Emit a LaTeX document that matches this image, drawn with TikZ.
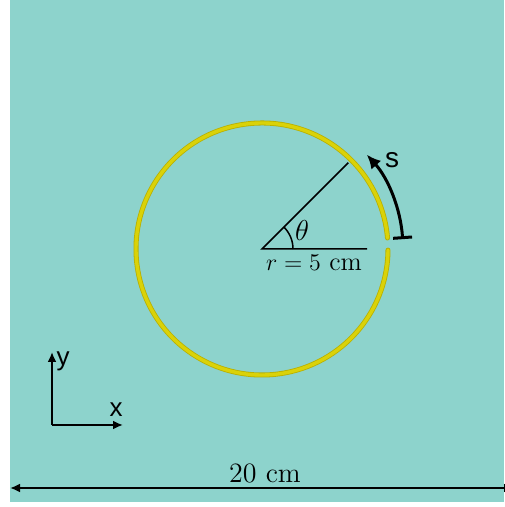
\documentclass[tikz,border=0pt]{standalone}
\usepackage{amsmath}
\usepackage{fontspec}
\usepackage{xcolor}
\usetikzlibrary{arrows.meta, calc}
\newfontfamily\axisfont{Liberation Sans}
\definecolor{tankteal}{RGB}{141,211,204}
\definecolor{ringdark}{RGB}{185,176,0}
\definecolor{ringlight}{RGB}{218,210,8}

\begin{document}
\begin{tikzpicture}[
  x=0.5pt, y=0.5pt,
  >={Latex[length=5pt,width=4.5pt]},
  ringout/.style={draw=ringdark, line width=2.5pt, line cap=round},
  ringin/.style ={draw=ringlight, line width=1.7pt, line cap=round},
  axis/.style   ={draw=black, line width=1pt, ->},
  axislabel/.style={font=\axisfont\fontsize{13}{15}\selectfont, inner sep=0pt},
  guide/.style  ={draw=black, line width=0.75pt},
  sarrow/.style ={draw=black, line width=1.5pt,
                  {Bar[width=9.5pt,line width=1.5pt]}-{Latex[length=7pt,width=6.5pt]}},
  dim/.style    ={draw=black, line width=1.2pt, <->},
]
\useasboundingbox (0,0) rectangle (504,507);
\fill[tankteal] (10,5) rectangle (504,507);

% ring with its gap near 0 degrees
\coordinate (c) at (262,258);
\draw[ringout] ($(c)+(5:126)$) arc (5:359.5:126);
\draw[ringin]  ($(c)+(5:126)$) arc (5:359.5:126);

% radius and angle
\coordinate (rEnd)  at ($(c)+(45:122)$);
\coordinate (rBase) at ($(c)+(105,0)$);
\draw[guide] (rEnd) -- (c) -- (rBase);
\draw[guide] ($(c)+(31,0)$) arc (0:45:31);
\node[font=\fontsize{15}{17}\selectfont] (theta) at (302,276) {$\theta$};
\node[font=\fontsize{13}{15}\selectfont] (rlab) at (314,244) {$r = 5\ \mathrm{cm}$};

% arc length s
\coordinate (sStart) at ($(c)+(4:141)$);
\draw[sarrow] (sStart) arc (4:42:141) coordinate (sEnd);
\node[axislabel, font=\axisfont\fontsize{14}{16}\selectfont] (slab) at (392,347) {s};

% axes
\coordinate (o)  at (52,82);
\coordinate (yT) at (52,155);
\coordinate (xT) at (123,82);
\draw[axis] (o) -- (yT);
\draw[axis] (o) -- (xT);
\node[axislabel] (ylab) at (63,146) {y};
\node[axislabel] (xlab) at (116,97) {x};

% width of the domain
\coordinate (dL) at (10,19);
\coordinate (dR) at (514,19);
\draw[dim] (dL) -- (dR);
\node[font=\fontsize{14}{16}\selectfont] (dlab) at (265,34) {20 cm};
\end{tikzpicture}
\end{document}
